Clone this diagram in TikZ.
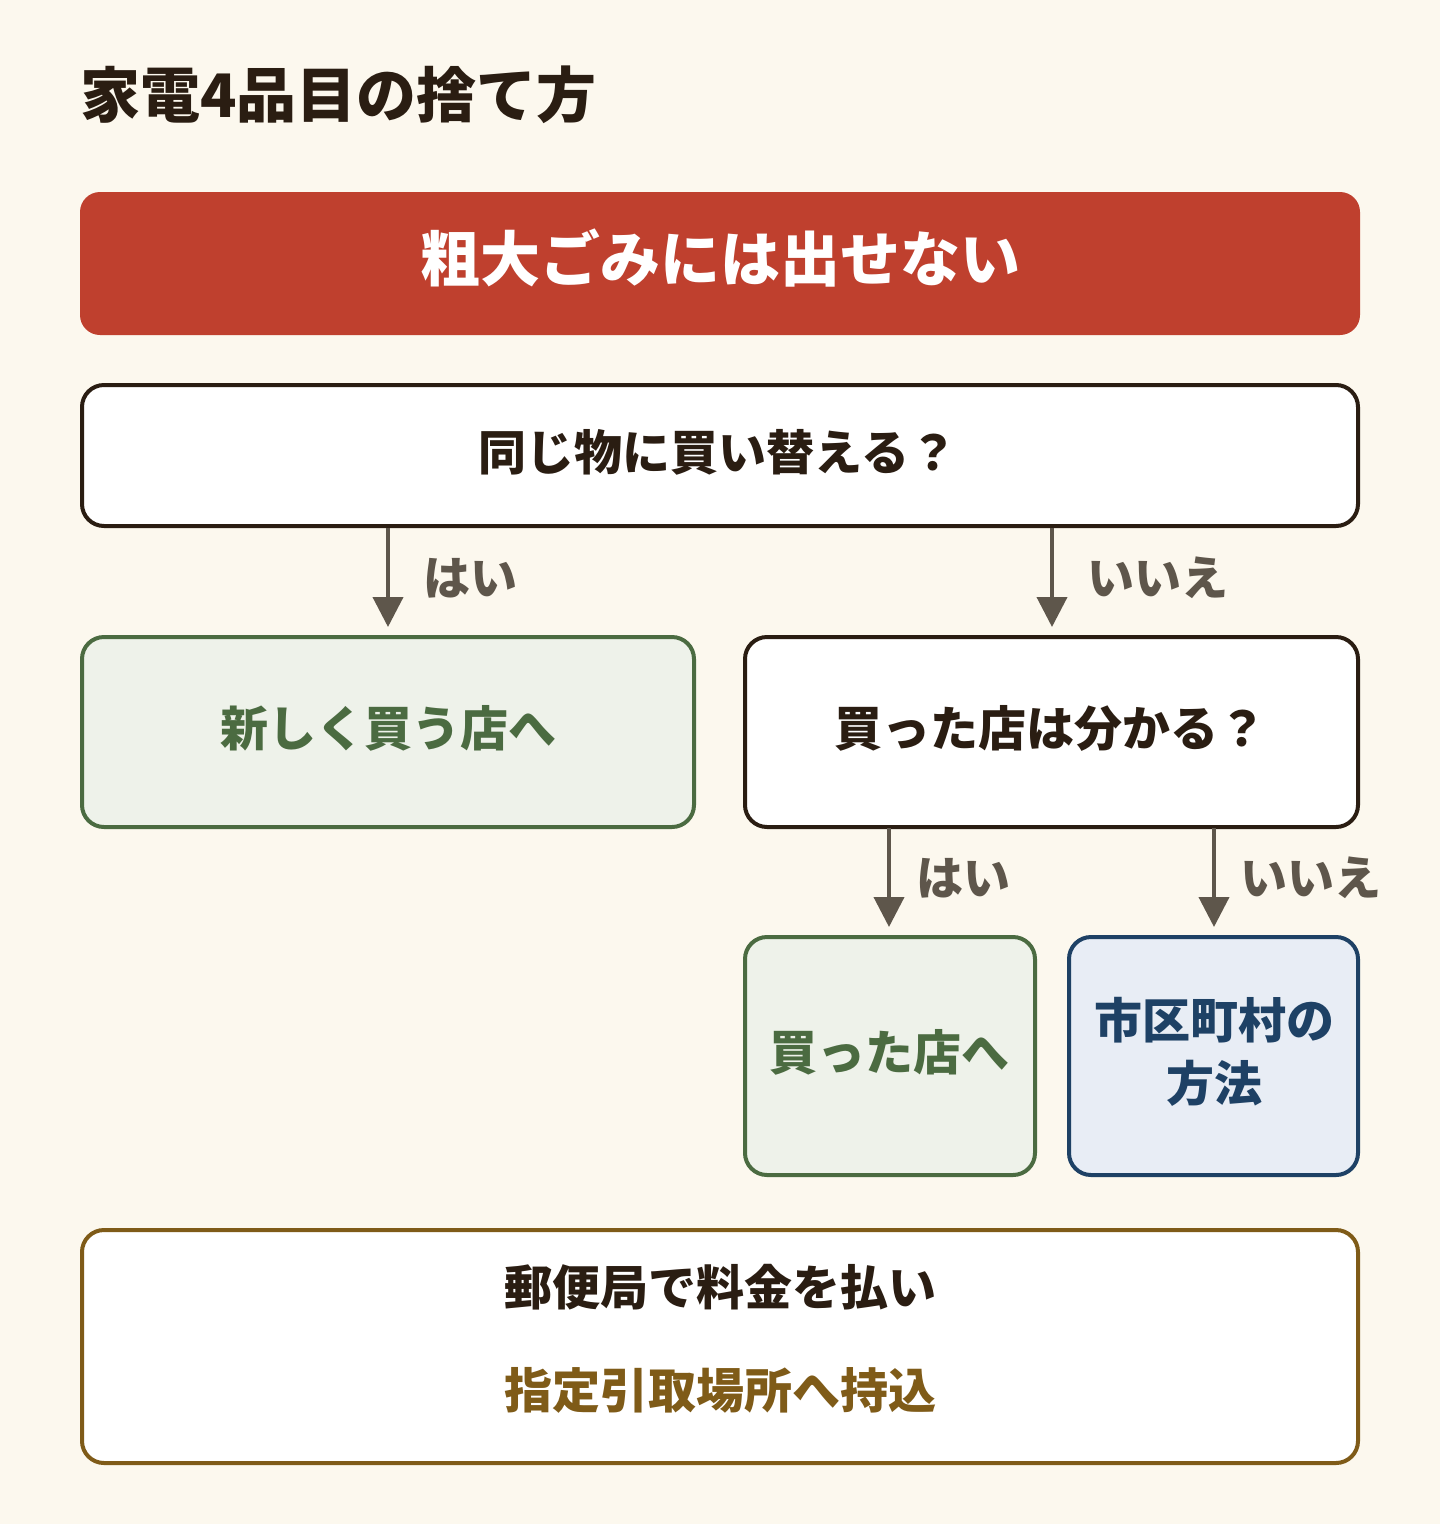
\documentclass[tikz,border=0pt]{standalone}
\usepackage{fontspec}
\setmainfont{Noto Sans CJK JP}
\usetikzlibrary{arrows.meta}
\definecolor{bg}{HTML}{FCF8EE}
\definecolor{redf}{HTML}{BF402E}
\definecolor{darkc}{HTML}{2A1D12}
\definecolor{arrowc}{HTML}{5E564B}
\definecolor{greenf}{HTML}{EEF2EA}
\definecolor{greend}{HTML}{4B6B41}
\definecolor{bluef}{HTML}{E8EDF5}
\definecolor{blued}{HTML}{1E4165}
\definecolor{goldd}{HTML}{7F5B18}
\tikzset{
  box/.style={rounded corners=22pt, line width=4pt},
  qbox/.style={box, draw=darkc, fill=white},
  gbox/.style={box, draw=greend, fill=greenf},
  bbox/.style={box, draw=blued, fill=bluef},
  ybox/.style={box, draw=goldd, fill=white},
  txt/.style={font=\bfseries\fontsize{48pt}{58pt}\selectfont, inner sep=0pt, align=center},
  lbl/.style={font=\bfseries\fontsize{47pt}{54pt}\selectfont, text=arrowc, inner sep=0pt, anchor=west},
  arr/.style={draw=arrowc, line width=4pt, -{Triangle[length=30pt,width=30pt]}},
}
\begin{document}
\begin{tikzpicture}[x=1pt,y=-1pt]
\fill[bg] (0,0) rectangle (1440,1524);
\useasboundingbox (0,0) rectangle (1440,1524);

\node[anchor=west, inner sep=0pt, text=darkc, font=\bfseries\fontsize{60pt}{70pt}\selectfont] (title) at (80,95) {家電4品目の捨て方};

\fill[redf, rounded corners=20pt] (80,192) rectangle (1360,335);
\node[txt, text=white, font=\bfseries\fontsize{60pt}{70pt}\selectfont] (banner) at (720,258) {粗大ごみには出せない};

\draw[qbox] (82,385) rectangle (1358,526);
\node[txt, text=darkc] (q1) at (718,452) {同じ物に買い替える？};
\coordinate (q1a) at (388,528);
\coordinate (q1b) at (1052,528);

\draw[gbox] (82,637) rectangle (694,827);
\node[txt, text=greend] (newshop) at (388,728) {新しく買う店へ};
\coordinate (ns) at (388,627);

\draw[qbox] (745,637) rectangle (1358,827);
\node[txt, text=darkc] (q2) at (1050,728) {買った店は分かる？};
\coordinate (q2in) at (1052,627);
\coordinate (q2a) at (889,828);
\coordinate (q2b) at (1214,828);

\draw[gbox] (745,937) rectangle (1035,1175);
\node[txt, text=greend] (oldshop) at (889,1052) {買った店へ};
\coordinate (os) at (889,927);

\draw[bbox] (1069,937) rectangle (1358,1175);
\node[txt, text=blued, font=\bfseries\fontsize{48pt}{63pt}\selectfont] (city) at (1214,1052) {市区町村の\\方法};
\coordinate (ct) at (1214,927);

\draw[ybox] (82,1230) rectangle (1358,1463);
\node[txt, text=darkc] (post1) at (720,1287) {郵便局で料金を払い};
\node[txt, text=goldd] (post2) at (720,1390) {指定引取場所へ持込};

\draw[arr] (q1a) -- (ns);
\node[lbl] (l1) at (423,578) {はい};
\draw[arr] (q1b) -- (q2in);
\node[lbl] (l2) at (1087,578) {いいえ};
\draw[arr] (q2a) -- (os);
\node[lbl] (l3) at (916,878) {はい};
\draw[arr] (q2b) -- (ct);
\node[lbl] (l4) at (1240,878) {いいえ};
\end{tikzpicture}
\end{document}
